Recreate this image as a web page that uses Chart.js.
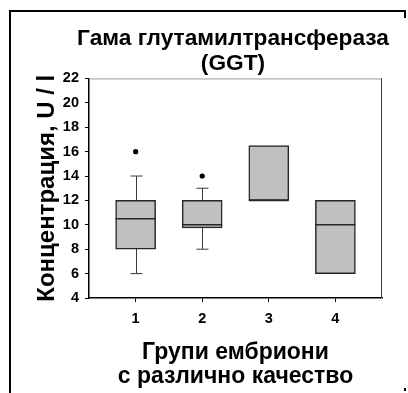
<!DOCTYPE html>
<html>
<head>
<meta charset="utf-8">
<script src="https://cdn.jsdelivr.net/npm/chart.js@4/dist/chart.umd.min.js"></script>
<style>
  html, body { margin: 0; padding: 0; background: #fff; }
  #wrap { width: 408px; height: 393px; position: relative; }
</style>
</head>
<body>
<div id="wrap"><canvas id="c"></canvas></div>
<script>
// Embryo quality groups and GGT box-plot statistics (U / l)
const groups = [1, 2, 3, 4];
const groupLabels = ['1', '2', '3', '4'];
const q1 = [8, 9.75, 12, 6];
const q3 = [12, 12, 16.5, 12];
const medians = [10.5, 10, 12, 10];
const whiskerLow = [6, 8, 12, 6];
const whiskerHigh = [14, 13, 16.5, 12];
const outlierGroups = [1, 2];
const outlierValues = [16, 14];
const yTickValues = [4, 6, 8, 10, 12, 14, 16, 18, 20, 22];

const FONT = "'Liberation Sans', Arial, sans-serif";

// Whiskers (behind the boxes) and median lines (on top), drawn through the scales
const boxParts = {
  id: 'boxParts',
  beforeDatasetsDraw(chart) {
    const { ctx, scales: { x, y } } = chart;
    ctx.save();
    ctx.strokeStyle = '#3a3a3a';
    ctx.lineWidth = 1;
    groups.forEach((g, i) => {
      if (whiskerLow[i] === q1[i] && whiskerHigh[i] === q3[i]) return;
      const cx = Math.round(x.getPixelForValue(g)) + 0.5;
      const capHalf = 6;
      const yl = y.getPixelForValue(whiskerLow[i]);
      const yh = y.getPixelForValue(whiskerHigh[i]);
      ctx.beginPath();
      ctx.moveTo(cx, yl); ctx.lineTo(cx, yh);
      if (whiskerLow[i] < q1[i]) { ctx.moveTo(cx - capHalf, yl); ctx.lineTo(cx + capHalf, yl); }
      if (whiskerHigh[i] > q3[i]) { ctx.moveTo(cx - capHalf, yh); ctx.lineTo(cx + capHalf, yh); }
      ctx.stroke();
    });
    ctx.restore();
  },
  afterDatasetsDraw(chart) {
    const { ctx, scales: { x, y } } = chart;
    const half = 20;
    ctx.save();
    ctx.strokeStyle = '#262626';
    ctx.lineWidth = 1.5;
    groups.forEach((g, i) => {
      const cx = x.getPixelForValue(g);
      const my = y.getPixelForValue(medians[i]);
      ctx.beginPath();
      ctx.moveTo(cx - half, my); ctx.lineTo(cx + half, my);
      ctx.stroke();
    });
    ctx.restore();
  }
};

// Plot frame (top / right edges) and the outer figure border
const frame = {
  id: 'frame',
  afterDraw(chart) {
    const { ctx, chartArea: a } = chart;
    ctx.save();
    ctx.lineWidth = 1;
    ctx.strokeStyle = '#9a9a9a';
    ctx.beginPath();
    ctx.moveTo(a.left, a.top + 0.5); ctx.lineTo(a.right, a.top + 0.5);
    ctx.stroke();
    ctx.strokeStyle = '#3a3a3a';
    ctx.beginPath();
    ctx.moveTo(a.right - 0.5, a.top); ctx.lineTo(a.right - 0.5, a.bottom);
    ctx.stroke();

    ctx.fillStyle = '#000';
    ctx.fillRect(9, 10, 397, 2);
    ctx.fillRect(9, 10, 2, 383);
    ctx.fillRect(404, 10, 2, 8);
    ctx.fillRect(404, 388, 2, 3);
    ctx.restore();
  }
};

new Chart(document.getElementById('c'), {
  type: 'bar',
  data: {
    datasets: [
      {
        type: 'bar',
        data: groups.map((g, i) => ({ x: g, y: [q1[i], q3[i]] })),
        backgroundColor: '#c0c0c0',
        borderColor: '#262626',
        borderWidth: 1.5,
        borderSkipped: false,
        barThickness: 40,
        order: 2
      },
      {
        type: 'scatter',
        data: outlierGroups.map((g, i) => ({ x: g, y: outlierValues[i] })),
        backgroundColor: '#000',
        borderColor: '#000',
        pointRadius: 2.6,
        borderWidth: 0,
        order: 1
      }
    ]
  },
  options: {
    responsive: true,
    maintainAspectRatio: false,
    animation: false,
    layout: { padding: { left: 58, right: 0, top: 0, bottom: 0 } },
    plugins: {
      legend: { display: false },
      tooltip: { enabled: false },
      title: {
        display: true,
        fullSize: true,
        text: ['Гама глутамилтрансфераза', '(GGT)'],
        color: '#000',
        font: { family: FONT, size: 22.7, weight: 'bold', lineHeight: 1.1 },
        padding: { top: 26.5, bottom: 2 }
      }
    },
    scales: {
      x: {
        type: 'linear',
        min: 0.3,
        max: 4.7,
        offset: false,
        afterBuildTicks: s => { s.ticks = groups.map(v => ({ value: v })); },
        afterFit: s => { s.height = 95; },
        ticks: {
          callback: v => groupLabels[groups.indexOf(v)],
          color: '#000',
          font: { family: FONT, size: 14.5, weight: 'bold' },
          padding: 8,
          autoSkip: false,
          maxRotation: 0
        },
        grid: { offset: false, drawOnChartArea: false, drawTicks: true, tickLength: 4, color: '#000' },
        border: { color: '#000', width: 1.5 },
        title: {
          display: true,
          text: ['Групи ембриони', 'с различно качество'],
          color: '#000',
          font: { family: FONT, size: 23, weight: 'bold', lineHeight: 1.02 },
          padding: { top: 0, bottom: 5 }
        }
      },
      y: {
        min: 4,
        max: 22,
        afterBuildTicks: s => { s.ticks = yTickValues.map(v => ({ value: v })); },
        afterFit: s => { s.width = 31; },
        ticks: {
          color: '#000',
          font: { family: FONT, size: 14.5, weight: 'bold' },
          padding: 6
        },
        grid: { drawOnChartArea: false, drawTicks: true, tickLength: 4, color: '#000' },
        border: { color: '#000', width: 1.5 },
        title: {
          display: true,
          text: 'Концентрация, U / l',
          color: '#000',
          font: { family: FONT, size: 24, weight: 'bold', lineHeight: 1.2 },
          padding: { top: -25.5, bottom: 0 }
        }
      },
      // empty right-hand margin beside the plot
      yRight: {
        position: 'right',
        min: 4,
        max: 22,
        afterFit: s => { s.width = 26; },
        ticks: { display: false },
        grid: { display: false },
        border: { display: false }
      }
    }
  },
  plugins: [boxParts, frame]
});
</script>
</body>
</html>
